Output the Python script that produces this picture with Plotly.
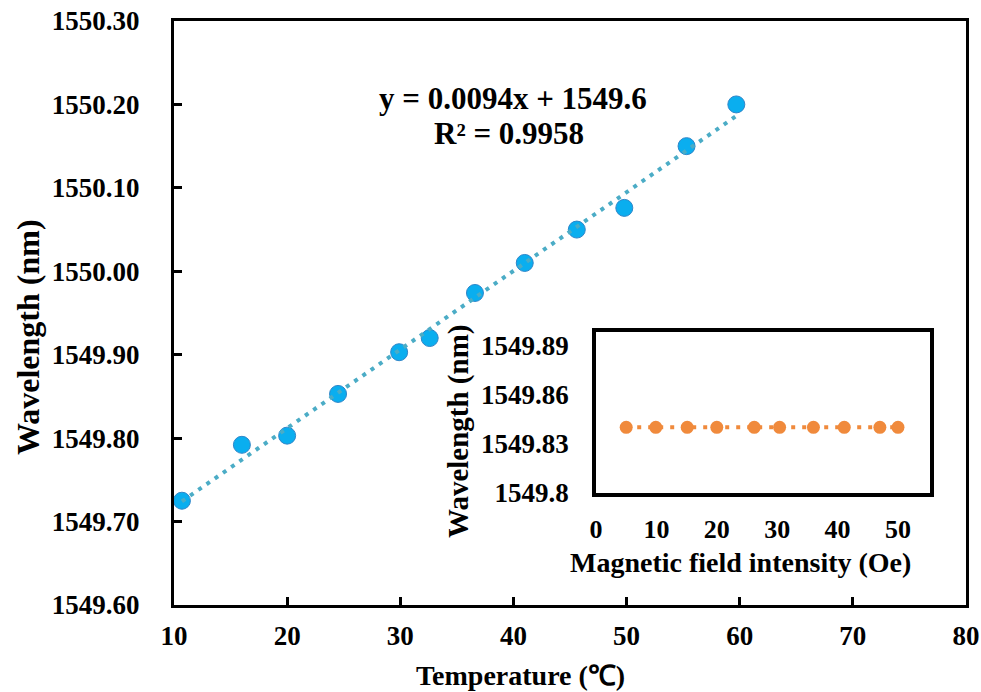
import numpy as np
import plotly.graph_objects as go

# ---- data ----
temperature = [10.7, 16.0, 20.0, 24.5, 29.9, 32.6, 36.6, 41.0, 45.6, 49.8, 55.3, 59.7]
wavelength_t = [1549.725, 1549.792, 1549.803, 1549.853, 1549.903, 1549.920,
                1549.974, 1550.010, 1550.050, 1550.076, 1550.150, 1550.200]
main_xticks = [10, 20, 30, 40, 50, 60, 70, 80]
main_yticks = [1549.60, 1549.70, 1549.80, 1549.90, 1550.00, 1550.10, 1550.20, 1550.30]

field = [5.0, 9.9, 15.1, 20.0, 26.2, 30.4, 36.0, 41.1, 47.0, 50.0]
wavelength_b = [1549.84] * 10
inset_xticks = [0, 10, 20, 30, 40, 50]
inset_yticks = [1549.80, 1549.83, 1549.86, 1549.89]
inset_yticktext = ["1549.8", "1549.83", "1549.86", "1549.89"]

eq_text = "y = 0.0094x + 1549.6"
r2_text = "R² = 0.9958"

# linear trendline computed from the data
coef = np.polyfit(temperature, wavelength_t, 1)
tx = np.array([min(temperature), max(temperature)])
ty = np.polyval(coef, tx)

W, H = 981, 692
FONT = "Liberation Serif"

def px_x(p):
    return p / W

def px_y(p):
    return 1 - p / H

fig = go.Figure()

fig.add_trace(go.Scatter(
    x=temperature, y=wavelength_t, mode="markers",
    marker=dict(size=17, color="#0AAEEF", line=dict(width=1, color="#2F86C9")),
    xaxis="x", yaxis="y", showlegend=False))
fig.add_trace(go.Scatter(
    x=tx, y=ty, mode="lines",
    line=dict(color="#4BACC6", width=4, dash="4px,6px"),
    xaxis="x", yaxis="y", showlegend=False))

fig.add_trace(go.Scatter(
    x=field, y=wavelength_b, mode="lines+markers",
    marker=dict(size=13, color="#F08A3C"),
    line=dict(color="#F08A3C", width=4, dash="4px,7px"),
    xaxis="x2", yaxis="y2", showlegend=False))

tickfont = dict(family=FONT, size=27, color="black", weight="bold")

fig.update_layout(
    width=W, height=H,
    margin=dict(l=0, r=0, t=0, b=0, pad=0, autoexpand=False),
    paper_bgcolor="white", plot_bgcolor="white",
    font=dict(family=FONT, color="black"),
    xaxis=dict(domain=[px_x(174), px_x(966)], range=[10, 80], tickvals=main_xticks,
               ticks="inside", ticklen=8, tickwidth=2.5, tickcolor="black",
               showline=True, linewidth=3, linecolor="black", mirror=True,
               showgrid=False, zeroline=False, tickfont=tickfont, automargin=False,
               ticklabelstandoff=5, anchor="y"),
    yaxis=dict(domain=[px_y(605), px_y(21)], range=[1549.6, 1550.3], tickvals=main_yticks,
               tickformat=".2f", ticks="inside", ticklen=8, tickwidth=2.5, tickcolor="black",
               showline=True, linewidth=3, linecolor="black", mirror=True,
               showgrid=False, zeroline=False, tickfont=tickfont, automargin=False,
               ticklabelstandoff=26, anchor="x"),
    xaxis2=dict(domain=[px_x(596), px_x(930)], range=[0, 55.3], tickvals=inset_xticks,
                ticks="", showline=True, linewidth=3.5, linecolor="black", mirror=True,
                showgrid=False, zeroline=False, tickfont=dict(tickfont, size=26),
                automargin=False, ticklabelstandoff=10, anchor="y2"),
    yaxis2=dict(domain=[px_y(493), px_y(332)], range=[1549.8, 1549.898],
                tickvals=inset_yticks, ticktext=inset_yticktext,
                ticks="", showline=True, linewidth=3.5, linecolor="black", mirror=True,
                showgrid=False, zeroline=False, tickfont=tickfont, automargin=False,
                ticklabelstandoff=18, anchor="x2"),
    shapes=[dict(type="rect", xref="paper", yref="paper",
                 x0=px_x(596), x1=px_x(930), y0=px_y(493), y1=px_y(332),
                 fillcolor="white", line=dict(width=0), layer="below")],
)

ann_font = dict(family=FONT, size=28, color="black", weight="bold")
fig.add_annotation(text="Temperature (℃)", x=px_x(520), y=px_y(675), xref="paper", yref="paper",
                   showarrow=False, font=ann_font, xanchor="center", yanchor="middle")
fig.add_annotation(text="Wavelength (nm)", x=px_x(28), y=px_y(337), xref="paper", yref="paper",
                   showarrow=False, font=dict(ann_font, size=32), textangle=-90,
                   xanchor="center", yanchor="middle")
fig.add_annotation(text="Magnetic field intensity (Oe)", x=px_x(740), y=px_y(562),
                   xref="paper", yref="paper", showarrow=False, font=ann_font,
                   xanchor="center", yanchor="middle")
fig.add_annotation(text="Wavelength (nm)", x=px_x(458), y=px_y(432), xref="paper", yref="paper",
                   showarrow=False, font=dict(ann_font, size=29), textangle=-90,
                   xanchor="center", yanchor="middle")
fig.add_annotation(text=eq_text, x=px_x(513), y=px_y(98), xref="paper", yref="paper",
                   showarrow=False, font=dict(ann_font, size=31), xanchor="center", yanchor="middle")
fig.add_annotation(text=r2_text, x=px_x(509), y=px_y(133), xref="paper", yref="paper",
                   showarrow=False, font=dict(ann_font, size=31), xanchor="center", yanchor="middle")

fig.write_html("out.html", config={"displayModeBar": False},
               post_script="document.body.style.margin='0';")
